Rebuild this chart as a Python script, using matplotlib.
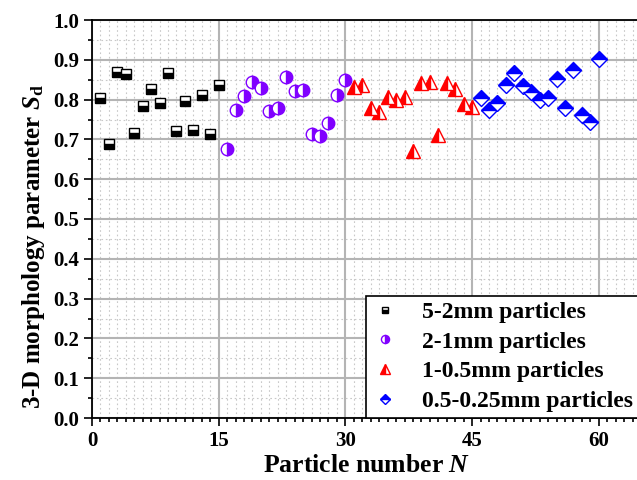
import matplotlib
matplotlib.use("Agg")
import matplotlib.pyplot as plt
from matplotlib.ticker import MultipleLocator

plt.rcParams['font.family'] = ['Liberation Serif', 'DejaVu Serif']
plt.rcParams['font.weight'] = 'bold'
plt.rcParams['mathtext.fontset'] = 'custom'
plt.rcParams['mathtext.rm'] = 'Liberation Serif:bold'
plt.rcParams['mathtext.it'] = 'Liberation Serif:italic:bold'

# particle numbers per size class
n_52 = list(range(1, 16))
n_21 = list(range(16, 31))
n_105 = list(range(31, 46))
n_0525 = list(range(46, 61))

sd_52 = [0.803, 0.689, 0.869, 0.864, 0.715, 0.784, 0.827, 0.792, 0.867, 0.720,
         0.796, 0.724, 0.811, 0.714, 0.836]
sd_21 = [0.675, 0.774, 0.808, 0.843, 0.830, 0.771, 0.778, 0.856, 0.822, 0.825,
         0.714, 0.708, 0.742, 0.812, 0.849]
sd_105 = [0.832, 0.836, 0.778, 0.770, 0.807, 0.799, 0.806, 0.672, 0.841, 0.844,
          0.710, 0.842, 0.826, 0.788, 0.781]
sd_0525 = [0.803, 0.774, 0.791, 0.836, 0.867, 0.833, 0.818, 0.799, 0.805, 0.851,
           0.778, 0.874, 0.761, 0.744, 0.903]

labels = ['5-2mm particles', '2-1mm particles', '1-0.5mm particles',
          '0.5-0.25mm particles']

fig = plt.figure(figsize=(6.37, 4.8), dpi=100)
ax = fig.add_axes([92 / 637, 1 - 418 / 480, 549 / 637, 398 / 480])

ax.plot(n_52, sd_52, ls='none', marker='s', ms=7.5, mec='black', mfc='black',
        mfcalt='white', fillstyle='bottom', mew=1, label=labels[0], zorder=3)
ax.plot(n_21, sd_21, ls='none', marker='o', ms=9, mec='#8000ff', mfc='#8000ff',
        mfcalt='white', fillstyle='right', mew=1, label=labels[1], zorder=3)
ax.plot(n_105, sd_105, ls='none', marker='^', ms=10, mec='red', mfc='red',
        mfcalt='white', fillstyle='left', mew=1, label=labels[2], zorder=3)
ax.plot(n_0525, sd_0525, ls='none', marker='D', ms=8, mec='blue', mfc='blue',
        mfcalt='white', fillstyle='top', mew=1, label=labels[3], zorder=3)

ax.set_xlim(0, 65)
ax.set_ylim(0, 1.0)
ax.xaxis.set_major_locator(MultipleLocator(15))
ax.xaxis.set_minor_locator(MultipleLocator(1))
ax.yaxis.set_major_locator(MultipleLocator(0.1))
ax.yaxis.set_minor_locator(MultipleLocator(0.05))
ax.yaxis.set_major_formatter(plt.FormatStrFormatter('%.1f'))

ax.grid(which='major', color='#b4b4b4', lw=1.5, ls='-')
ax.grid(which='minor', color='#c8c8c8', lw=0.8, ls=(0, (1.5, 2.5)))
ax.set_axisbelow(True)

for s in ['left', 'bottom', 'top']:
    ax.spines[s].set_linewidth(1.3)
ax.spines['right'].set_visible(False)
ax.tick_params(which='both', direction='out', top=False, right=False,
               labelsize=15, width=1.2)
ax.tick_params(which='major', length=6)
ax.tick_params(which='minor', length=3)

ax.set_xlabel('Particle number $\\mathit{N}$', fontsize=18.5, fontweight='bold',
              labelpad=2)
ax.set_ylabel('3-D morphology parameter $\\mathit{S}_\\mathrm{d}$', fontsize=18,
              fontweight='bold')
ax.yaxis.set_label_coords(-0.082, 0.43)

leg = ax.legend(loc='lower left', bbox_to_anchor=(0.499, 0.0), borderaxespad=0,
                fontsize=17, markerscale=0.65, handletextpad=1.0,
                labelspacing=0.34, borderpad=0.26, fancybox=False, framealpha=1,
                edgecolor='black', handlelength=1.1)
leg.get_frame().set_linewidth(1.2)

plt.savefig('out.png', dpi=100)
